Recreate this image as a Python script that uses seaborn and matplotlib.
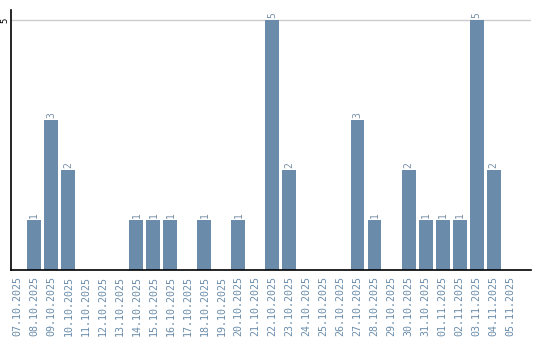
import matplotlib
matplotlib.use("Agg")
import matplotlib.pyplot as plt
import seaborn as sns
import pandas as pd

dates = ["07.10.2025", "08.10.2025", "09.10.2025", "10.10.2025", "11.10.2025",
         "12.10.2025", "13.10.2025", "14.10.2025", "15.10.2025", "16.10.2025",
         "17.10.2025", "18.10.2025", "19.10.2025", "20.10.2025", "21.10.2025",
         "22.10.2025", "23.10.2025", "24.10.2025", "25.10.2025", "26.10.2025",
         "27.10.2025", "28.10.2025", "29.10.2025", "30.10.2025", "31.10.2025",
         "01.11.2025", "02.11.2025", "03.11.2025", "04.11.2025", "05.11.2025"]
counts = [0, 1, 3, 2, 0, 0, 0, 1, 1, 1, 0, 1, 0, 1, 0,
          5, 2, 0, 0, 0, 3, 1, 0, 2, 1, 1, 1, 5, 2, 0]

df = pd.DataFrame({"date": dates, "count": counts})

sns.set_style("white")
plt.rcParams["font.family"] = ["DejaVu Sans Mono", "DejaVu Sans"]

bar_color = "#6a8caa"
label_color = "#6a8caa"

fig = plt.figure(figsize=(5.4, 3.4), dpi=100)
ax = fig.add_axes([10.5 / 540, 70 / 340, (531 - 10.5) / 540, (330 - 70) / 340])

sns.barplot(data=df, x="date", y="count", color=bar_color, width=0.82,
            saturation=1, ax=ax, linewidth=0)

for i, v in enumerate(counts):
    if v > 0:
        ax.text(i, v + 0.05, str(v), rotation=90, ha="center", va="bottom",
                fontsize=7, color="#7a90a6")

ax.set_xlim(-0.4, 30.2)
ax.set_ylim(0, 5.2)
ax.set_yticks([5])
ax.set_yticklabels(["5"], rotation=90, va="center", fontsize=6.5, color="black")
ax.tick_params(axis="y", length=0, pad=1)
ax.tick_params(axis="x", length=0, pad=4, labelrotation=90, labelsize=7.2,
               labelcolor=label_color)
for lab in ax.get_xticklabels():
    lab.set_va("top")
ax.axhline(5, color="#cccccc", linewidth=1, zorder=0.5)
ax.set_xlabel("")
ax.set_ylabel("")
for s in ["top", "right"]:
    ax.spines[s].set_visible(False)
for s in ["left", "bottom"]:
    ax.spines[s].set_color("black")
    ax.spines[s].set_linewidth(1.2)
    ax.spines[s].set_zorder(5)

fig.savefig("out.png", dpi=100)
